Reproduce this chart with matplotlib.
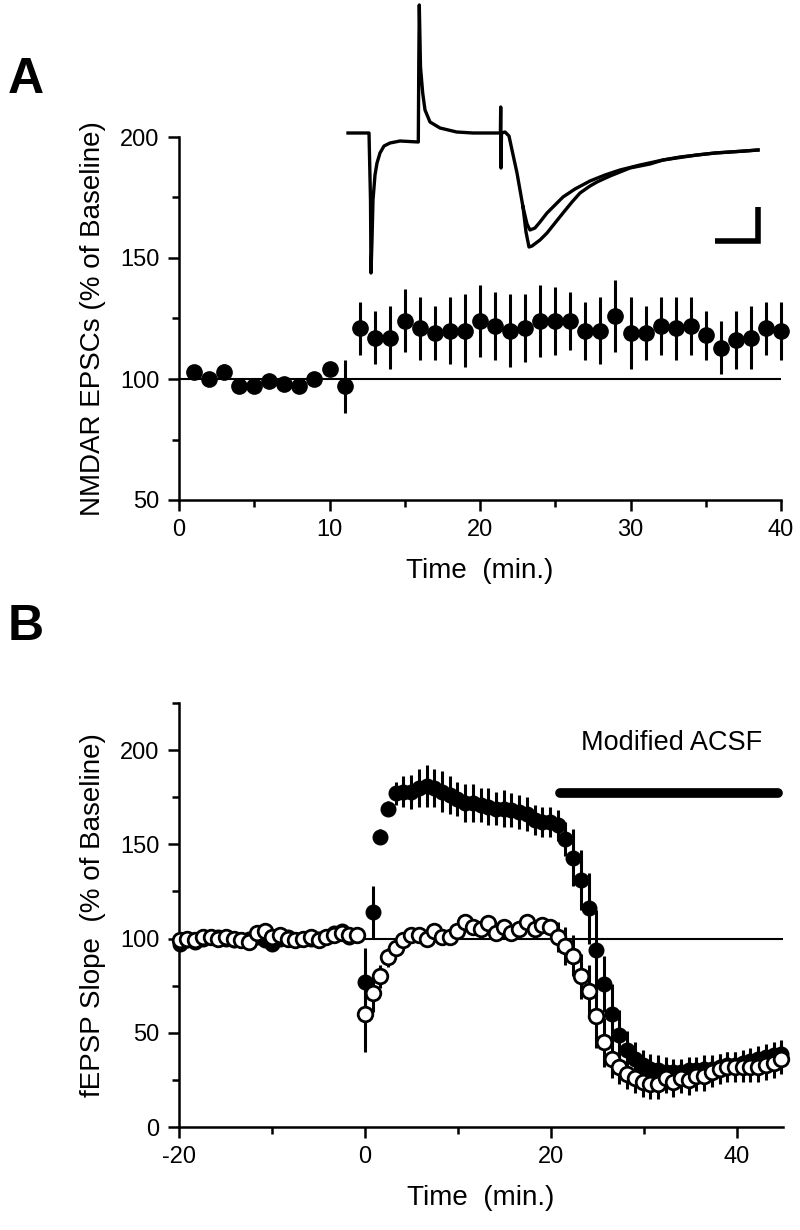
import numpy as np
import matplotlib
matplotlib.use("Agg")
import matplotlib.pyplot as plt
from matplotlib.ticker import MultipleLocator

plt.rcParams['font.family'] = ['Liberation Sans', 'DejaVu Sans']
plt.rcParams['axes.unicode_minus'] = False

# ---------------- Panel A data ----------------
A_time = list(range(1, 41))
A_mean = [103, 100, 103, 97, 97, 99, 98, 97, 100, 104,
          97, 121, 117, 117, 124, 121, 119, 120, 120, 124,
          122, 120, 121, 124, 124, 124, 120, 120, 126, 119,
          119, 122, 121, 122, 118, 113, 116, 117, 121, 120]
A_sem = [2, 3, 3, 2, 2, 2, 2, 2, 2, 2,
         11, 11, 11, 13, 13, 13, 11, 14, 15, 15,
         14, 15, 14, 15, 14, 12, 12, 14, 15, 15,
         11, 12, 13, 12, 10, 11, 12, 13, 11, 12]

# ---------------- Panel B data ----------------
dt = 0.83  # sampling interval (min)
B_time_base = np.arange(-24, 0) * dt
B_time_post = np.arange(0, 55) * dt

filled_base = [97, 99, 98, 100, 101, 101, 100, 99, 99, 100, 101, 99,
               97, 100, 101, 99, 100, 100, 100, 101, 103, 104, 101, 102]
filled_base_err = [2] * 24
open_base = [99, 100, 99, 101, 101, 100, 101, 100, 99, 98, 103, 104,
             101, 102, 100, 99, 100, 101, 99, 101, 102, 103, 102, 102]
open_base_err = [2] * 24

filled_post = [77, 114, 154, 169, 177, 178, 178, 180, 181, 180,
               178, 176, 174, 172, 172, 171, 170, 169, 169, 168,
               167, 166, 163, 162, 162, 160, 153, 143, 131, 116,
               94, 76, 60, 49, 41, 36, 33, 31, 30, 29,
               29, 29, 30, 30, 31, 31, 32, 33, 33, 34,
               35, 36, 37, 38, 39]
filled_post_err = [18, 14, 4, 4, 6, 8, 9, 10, 11, 10,
                   11, 10, 9, 10, 10, 9, 10, 9, 10, 9,
                   9, 9, 8, 8, 8, 8, 9, 15, 16, 19,
                   21, 15, 16, 13, 10, 9, 8, 8, 8, 8,
                   7, 7, 7, 7, 7, 7, 7, 7, 7, 7,
                   7, 7, 7, 7, 7]
open_post = [60, 71, 80, 90, 95, 99, 102, 102, 100, 104,
             101, 101, 104, 109, 106, 105, 108, 103, 106, 103,
             105, 109, 105, 107, 106, 101, 96, 91, 80, 72,
             59, 45, 36, 32, 28, 26, 24, 23, 23, 26,
             24, 26, 25, 27, 27, 29, 31, 32, 32, 32,
             32, 32, 33, 34, 36]
open_post_err = [20, 10, 6, 5, 4, 3, 3, 3, 3, 3,
                 3, 3, 3, 3, 3, 3, 3, 3, 3, 3,
                 3, 3, 3, 3, 4, 8, 10, 11, 12, 14,
                 17, 13, 10, 9, 8, 8, 8, 8, 8, 8,
                 8, 8, 8, 8, 8, 8, 8, 8, 8, 8,
                 8, 8, 8, 8, 8]

# ---------------- Inset trace (ms, pA) ----------------
trace_common_t = [0, 21, 22.5, 23, 24, 25, 27, 29, 32, 36, 42, 52, 70.3,
                  70.8, 71.3, 72.5, 74.7, 77, 82, 92, 108.7, 125, 148.7,
                  152.4, 152.7, 153.0, 153.5, 157, 161, 164, 169, 175]
trace_common_i = [0, 0, -67, -140, -107, -67, -42, -30, -20, -13, -10, -8, -9,
                  73, 128, 66, 40, 23, 11, 5, 1, 0, 0,
                  0, 26, -35, 0, 1, -3, -17, -40, -74]
trace1_t = [175, 179, 182, 187, 192, 199, 207, 215, 227, 242, 257, 272,
            292, 315, 332, 349, 367, 382, 397, 410]
trace1_i = [-74, -91, -97, -95, -89, -80, -72, -64, -56, -48, -42, -37,
            -32, -27, -24, -22, -20, -19, -18, -17]
trace2_t = [175, 178, 181, 184, 192, 199, 207, 215, 224, 232, 242, 249,
            262, 282, 302, 315, 332, 349, 367, 382, 397, 410]
trace2_i = [-74, -99, -114, -113, -107, -100, -90, -80, -69, -60, -53, -49,
            -43, -35, -31, -27, -24.5, -22, -20, -19, -18, -17]

fig = plt.figure(figsize=(8.0, 12.3), dpi=100)
W, H = 800.0, 1230.0

def ax_rect(x0, x1, ytop, ybot):
    return [x0 / W, 1 - ybot / H, (x1 - x0) / W, (ybot - ytop) / H]

lw_axis = 1.8
tick_fs = 17
label_fs = 20

def style_axes(ax):
    for s in ['top', 'right']:
        ax.spines[s].set_visible(False)
    for s in ['left', 'bottom']:
        ax.spines[s].set_linewidth(lw_axis)
    ax.tick_params(which='major', direction='out', length=8, width=lw_axis,
                   labelsize=tick_fs, pad=6)
    ax.tick_params(which='minor', direction='out', length=5, width=lw_axis)

# ---------------- Panel A ----------------
axA = fig.add_axes(ax_rect(179, 781, 137, 500))
style_axes(axA)
axA.set_xlim(0, 40)
axA.set_ylim(50, 200)
axA.xaxis.set_major_locator(MultipleLocator(10))
axA.xaxis.set_minor_locator(MultipleLocator(5))
axA.yaxis.set_major_locator(MultipleLocator(50))
axA.yaxis.set_minor_locator(MultipleLocator(25))
axA.axhline(100, color='black', lw=1.5, zorder=1)
axA.errorbar(A_time, A_mean, yerr=A_sem, fmt='o', color='black',
             markersize=11, elinewidth=2.2, capsize=0, zorder=3,
             clip_on=False)
axA.set_xlabel('Time  (min.)', fontsize=label_fs, labelpad=12)
axA.set_ylabel('NMDAR EPSCs (% of Baseline)', fontsize=label_fs, labelpad=10)

# Inset trace
axT = fig.add_axes(ax_rect(330, 790, 0, 290))
axT.set_xlim(-18, 442)
axT.set_ylim(-157, 133)
axT.axis('off')
trace_lw = 2.4
axT.plot(trace_common_t, trace_common_i, color='black', lw=trace_lw,
         solid_joinstyle='round')
axT.plot(trace1_t, trace1_i, color='black', lw=trace_lw, solid_joinstyle='round')
axT.plot(trace2_t, trace2_i, color='black', lw=trace_lw, solid_joinstyle='round')
# scale bar
axT.plot([367, 410, 410], [-108, -108, -74], color='black', lw=4,
         solid_capstyle='butt', solid_joinstyle='miter')

# ---------------- Panel B ----------------
axB = fig.add_axes(ax_rect(179, 783, 703, 1127))
style_axes(axB)
axB.set_xlim(-20, 45)
axB.set_ylim(0, 225)
axB.xaxis.set_major_locator(MultipleLocator(20))
axB.xaxis.set_minor_locator(MultipleLocator(10))
axB.yaxis.set_major_locator(MultipleLocator(50))
axB.yaxis.set_minor_locator(MultipleLocator(25))
axB.set_yticks([0, 50, 100, 150, 200])
axB.hlines(100, 0, 45, color='black', lw=1.5, zorder=1)

fB_t = np.concatenate([B_time_base, B_time_post])
fB = filled_base + filled_post
fB_e = filled_base_err + filled_post_err
oB = open_base + open_post
oB_e = open_base_err + open_post_err

axB.errorbar(fB_t, fB, yerr=fB_e, fmt='o', color='black', markersize=10.5,
             elinewidth=2.2, capsize=0, zorder=3, clip_on=False)
axB.errorbar(fB_t, oB, yerr=oB_e, fmt='o', color='black', mfc='white',
             mec='black', mew=2.0, markersize=10.5, elinewidth=2.2, capsize=0,
             zorder=4, clip_on=False)

axB.plot([21.0, 44.5], [177, 177], color='black', lw=7,
         solid_capstyle='round', clip_on=False)
axB.text(33.0, 204, 'Modified ACSF', fontsize=19.5, ha='center', va='center')

axB.set_xlabel('Time  (min.)', fontsize=label_fs, labelpad=12)
axB.set_ylabel('fEPSP Slope  (% of Baseline)', fontsize=label_fs, labelpad=10)

# Panel letters
fig.text(8 / W, 1 - 93 / H, 'A', fontsize=36, fontweight='bold', ha='left', va='baseline')
fig.text(8 / W, 1 - 640 / H, 'B', fontsize=36, fontweight='bold', ha='left', va='baseline')

fig.savefig('out.png', dpi=100)
